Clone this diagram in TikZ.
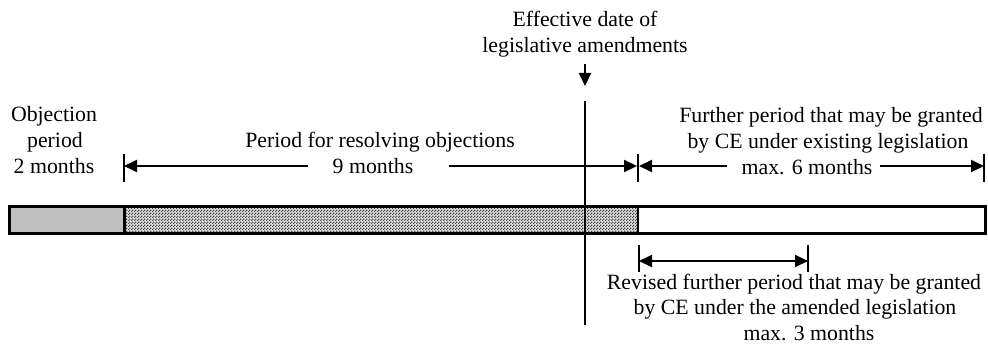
\documentclass[tikz,border=0pt]{standalone}
\usepackage{fontspec}
\setmainfont{Liberation Serif}
\usetikzlibrary{arrows.meta,patterns.meta}
\pgfdeclarepattern{name=finecheck, type=uncolored,
  bottom left={\pgfpoint{0pt}{0pt}}, top right={\pgfpoint{2.6pt}{2.6pt}},
  tile size={\pgfpoint{2.6pt}{2.6pt}},
  code={\pgfpathrectangle{\pgfpoint{0pt}{0pt}}{\pgfpoint{1.3pt}{1.3pt}}%
        \pgfpathrectangle{\pgfpoint{1.3pt}{1.3pt}}{\pgfpoint{1.3pt}{1.3pt}}%
        \pgfusepath{fill}}}
\tikzset{
  lbl/.style={anchor=base, inner sep=0pt, font=\fontsize{21.8}{26}\selectfont},
  dim/.style={line width=2pt, -{Triangle[length=13pt,width=12pt]}},
  tick/.style={line width=2pt},
  barline/.style={line width=3pt},
}
\begin{document}
\begin{tikzpicture}[x=1pt,y=-1pt]
\useasboundingbox (0,0) rectangle (988,347);
% bar
\fill[gray!50] (9,207) rectangle (124,234);
\fill[gray!25] (124,207) rectangle (638,234);
\fill[pattern={finecheck}, pattern color=gray!55!black] (124,207) rectangle (638,234);
\draw[barline] (9,207) rectangle (985,234);
\draw[barline] (124,207) -- (124,234);
\draw[line width=1.5pt] (638,207) -- (638,234);
% vertical effective line
\coordinate (vt) at (585,101);
\coordinate (vb) at (585,325);
\draw[tick] (vt) -- (vb);
% effective date text
\node[lbl] (eff1) at (585,27) {Effective date of};
\node[lbl] (eff2) at (585,53) {legislative amendments};
\coordinate (ea) at (585,64);
\coordinate (eb) at (585,86);
\draw[dim] (ea) -- (eb);
% left text
\node[lbl] (ob1) at (54,122) {Objection};
\node[lbl] (ob2) at (55,148) {period};
\node[lbl] (ob3) at (54,174) {2 months};
% middle text
\node[lbl] (mid1) at (380,148) {Period for resolving objections};
\node[lbl] (mid2) at (373,174) {9 months};
% ticks upper
\coordinate (t1a) at (124,154); \coordinate (t1b) at (124,182);
\coordinate (t2a) at (638,154); \coordinate (t2b) at (638,182);
\coordinate (t3a) at (984,154); \coordinate (t3b) at (984,182);
\draw[tick] (t1a) -- (t1b);
\draw[tick] (t2a) -- (t2b);
\draw[tick] (t3a) -- (t3b);
\coordinate (m1) at (308,166);
\coordinate (m2) at (449,166);
\draw[dim] (m1) -- (124,166);
\draw[dim] (m2) -- (637,166);
% right upper text
\node[lbl] (r1) at (831,123) {Further period that may be granted};
\node[lbl] (r2) at (828,149) {by CE under existing legislation};
\node[lbl] (r3) at (807,175) {max. 6 months};
\coordinate (r4) at (727,166);
\coordinate (r5) at (880,166);
\draw[dim] (r4) -- (639,166);
\draw[dim] (r5) -- (984,166);
% lower arrow
\coordinate (l1a) at (639,245); \coordinate (l1b) at (639,272);
\coordinate (l2a) at (808,245); \coordinate (l2b) at (808,272);
\draw[tick] (l1a) -- (l1b);
\draw[tick] (l2a) -- (l2b);
\draw[line width=2pt, {Triangle[length=13pt,width=12pt]}-{Triangle[length=13pt,width=12pt]}] (639,261) -- (808,261);
% lower text
\node[lbl] (lo1) at (794,290) {Revised further period that may be granted};
\node[lbl] (lo2) at (795,315) {by CE under the amended legislation};
\node[lbl] (lo3) at (809,341) {max. 3 months};
\end{tikzpicture}
\end{document}
